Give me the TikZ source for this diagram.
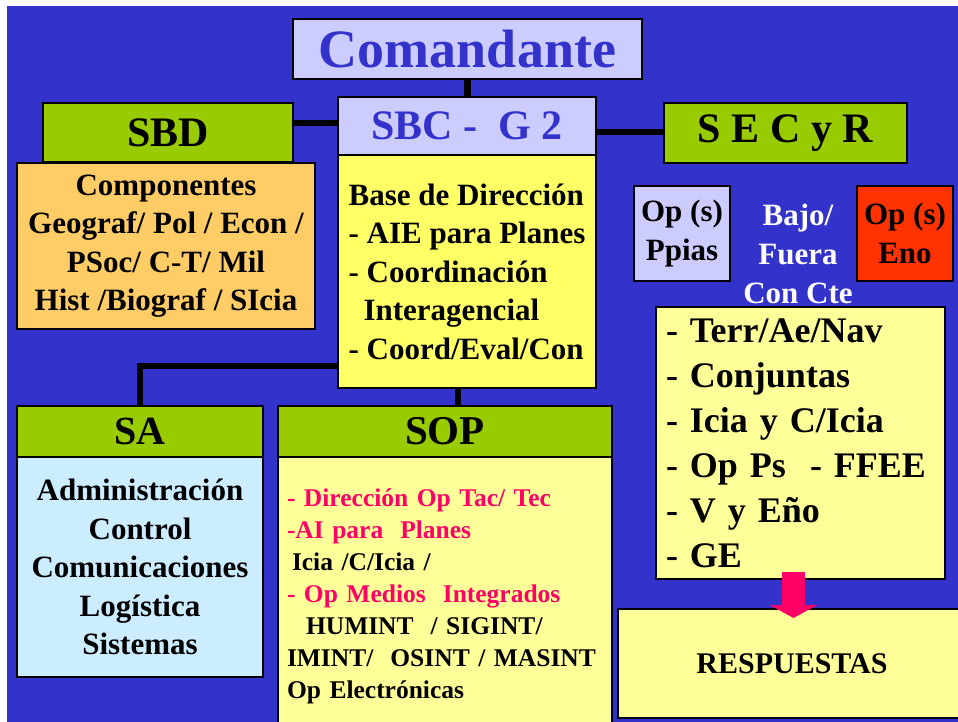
\documentclass[tikz,border=0pt]{standalone}
\usepackage{fontspec}
\setmainfont{Liberation Serif}
\usetikzlibrary{positioning,arrows.meta}
\definecolor{fondo}{HTML}{3333CC}
\definecolor{lila}{HTML}{CCCCFF}
\definecolor{verde}{HTML}{99CC00}
\definecolor{naranja}{HTML}{FFCC66}
\definecolor{amarillo}{HTML}{FFFF66}
\definecolor{crema}{HTML}{FFFF99}
\definecolor{celeste}{HTML}{CCECFF}
\definecolor{rojo}{HTML}{FF3300}
\definecolor{rosa}{HTML}{FF0066}
\begin{document}
\begin{tikzpicture}[x=1pt,y=-1pt]
		% formatos
		\tikzstyle{caja} = [draw, line width=1.2pt, outer sep=0pt, inner sep=0pt, font=\bfseries]
		\tikzstyle{titulo} = [caja, fill=verde, font=\fontsize{42}{48}\selectfont\bfseries]
		\tikzstyle{cuerpo} = [caja, align=center, font=\fontsize{31}{38.5}\selectfont\bfseries]
		\tikzstyle{linea} = [line width=6.5pt]
		\tikzstyle{flecha} = [-{Triangle[length=13pt,width=47pt]}, line width=23pt, draw=rosa]
		% fondo
		\useasboundingbox (0,0) rectangle (958,722);
		\clip (0,0) rectangle (958,722);
		\fill [white] (0,0) rectangle (958,722);
		\fill [fondo] (7,6) rectangle (958,722);
		% nodos
		\node [caja, fill=lila, text=fondo, minimum width=349pt, minimum height=60pt,
			font=\fontsize{54}{60}\selectfont\bfseries] (coman) at (467.5,49) {Comandante};
		\node [caja, fill=lila, text=fondo, minimum width=258pt, minimum height=58pt,
			font=\fontsize{42}{48}\selectfont\bfseries] (sbc) at (467,126) {SBC -\ \ G 2};
		\node [cuerpo, fill=amarillo, minimum width=258pt, minimum height=233pt, align=left]
			(sbcb) [below=0pt of sbc]
			{Base de Dirección\\- AIE para Planes\\- Coordinación\\\hspace*{15pt}Interagencial\\- Coord/Eval/Con};
		\node [titulo, minimum width=250pt, minimum height=59pt] (sbd) at (168,132.5) {SBD};
		\node [cuerpo, fill=naranja, minimum width=298pt, minimum height=166pt] (comp) at (166,246)
			{Componentes\\Geograf/ Pol / Econ /\\PSoc/ C-T/ Mil\\Hist /Biograf / SIcia};
		\node [titulo, minimum width=243pt, minimum height=60pt] (secyr) at (785.5,133) {S E C y R};
		\node [cuerpo, fill=lila, minimum width=96pt, minimum height=95pt] (ppias) at (682,233.5) {Op (s)\\Ppias};
		\node [cuerpo, draw=none, text=white, font=\fontsize{31}{39}\selectfont\bfseries] (bajo) at (798,254)
			{Bajo/\\Fuera\\Con Cte};
		\node [cuerpo, fill=rojo, minimum width=96pt, minimum height=95pt] (eno) at (905,233.5) {Op (s)\\Eno};
		\node [cuerpo, fill=crema, minimum width=289pt, minimum height=272pt, text width=269pt, align=left,
			font=\fontsize{36}{45}\selectfont\bfseries] (lista) at (800.5,443)
			{- Terr/Ae/Nav\\- Conjuntas\\- Icia y C/Icia\\- Op Ps\ \ - FFEE\\- V y Eño\\- GE};
		\node [caja, fill=crema, minimum width=348pt, minimum height=109pt,
			font=\fontsize{30}{36}\selectfont\bfseries] (resp) at (792,663.5) {RESPUESTAS};
		\node [titulo, minimum width=246pt, minimum height=51pt,
			font=\fontsize{40}{46}\selectfont\bfseries] (sa) at (140,431.5) {SA};
		\node [cuerpo, fill=celeste, minimum width=246pt, minimum height=220pt] (sab) [below=0pt of sa]
			{Administración\\Control\\Comunicaciones\\Logística\\Sistemas};
		\node [titulo, minimum width=334pt, minimum height=51pt,
			font=\fontsize{41}{46}\selectfont\bfseries] (sop) at (445,431.5) {SOP};
		\node [cuerpo, fill=crema, minimum width=334pt, minimum height=278pt, text width=316pt, align=left,
			font=\fontsize{25.5}{32}\selectfont\bfseries] (sopb) [below=0pt of sop]
			{\textcolor{rosa}{- Dirección Op Tac/ Tec}\\
			\textcolor{rosa}{-AI para\ \ Planes}\\
			\hspace*{5pt}Icia /C/Icia /\\
			\textcolor{rosa}{- Op Medios\ \ Integrados}\\
			\hspace*{19pt}HUMINT\ \ / SIGINT/\\
			IMINT/\ \ OSINT / MASINT\\
			Op Electrónicas};
		% relaciones
		\draw [linea] (coman.south) -- (coman.south |- sbc.north);
		\draw [linea] ([yshift=9.5pt]sbd.east) -- ([yshift=9.5pt]sbd.east -| sbc.west);
		\draw [linea] ([yshift=-6pt]sbc.east) -- ([yshift=-6pt]sbc.east -| secyr.west);
		\draw [linea] ([yshift=-94.5pt]sbcb.west) -| (sa.north);
		\draw [linea] ([xshift=-9pt]sbcb.south) -- ([xshift=-9pt]sbcb.south |- sop.north);
		\draw [flecha] ([xshift=-7pt,yshift=7pt]lista.south) -- ([xshift=1.5pt,yshift=-9pt]resp.north);
\end{tikzpicture}
\end{document}
